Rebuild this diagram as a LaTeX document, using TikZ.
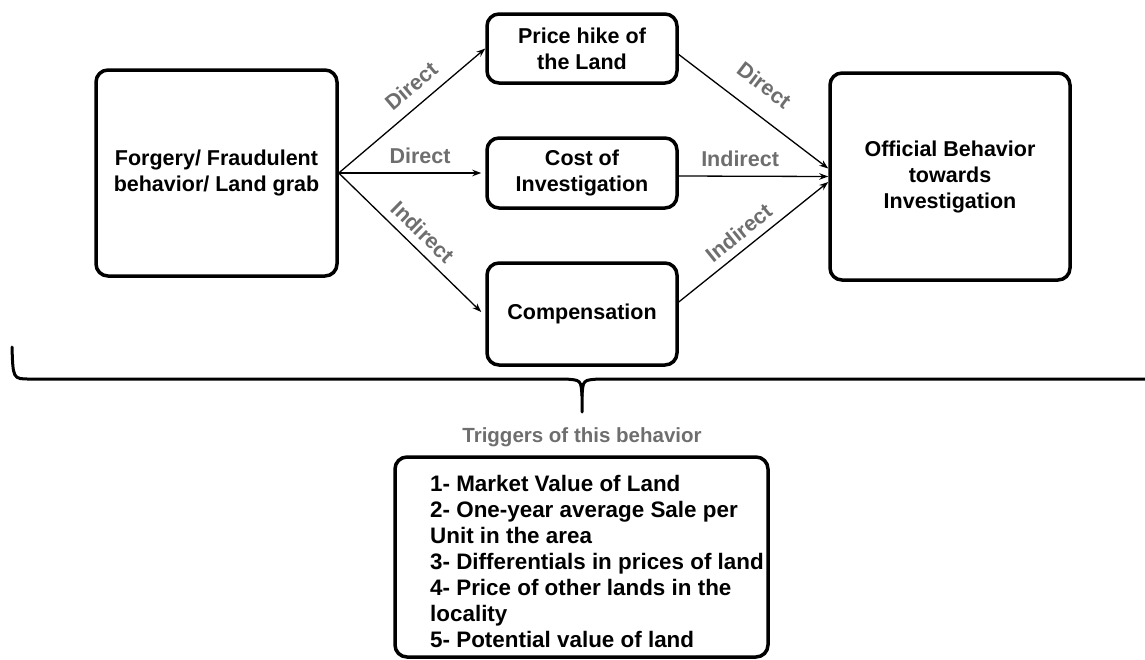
\documentclass[tikz,border=0pt]{standalone}
\usepackage{fontspec}
\setmainfont{Liberation Sans}
\usetikzlibrary{arrows.meta}
\definecolor{labelgray}{HTML}{6E6E6E}

\begin{document}
\begin{tikzpicture}[
	x=1pt, y=-1pt,
	every node/.style={font=\fontsize{21.5}{26}\selectfont\bfseries, align=center},
	box/.style={draw=black, line width=3.5pt, rounded corners=12pt, inner sep=0pt},
	link/.style={-{Stealth[length=9pt, width=6.5pt]}, line width=1.3pt},
	tag/.style={text=labelgray, sloped, above=#1, inner sep=0pt},
	brace/.style={line width=3pt, line cap=round},
]
\useasboundingbox (0,0) rectangle (1145,659);

% main boxes
\node [box, minimum width=241pt, minimum height=206pt] (fraud) at (216.5,173) {Forgery/ Fraudulent\\behavior/ Land grab};
\node [box, minimum width=190pt, minimum height=69pt] (price) at (582,48.5) {Price hike of\\the Land};
\node [box, minimum width=190pt, minimum height=70pt] (cost) at (582,173) {Cost of\\Investigation};
\node [box, minimum width=190pt, minimum height=102pt] (comp) at (582,314) {Compensation};
\node [box, minimum width=240pt, minimum height=207pt] (official) at (950,176.5) {Official Behavior\\towards\\Investigation};

% links
\draw [link] (fraud.east) -- node [tag=11pt, pos=0.58] {Direct} (price.west);
\draw [link] (fraud.east) -- node [tag=9pt, pos=0.57] {Direct} ([xshift=-4pt]cost.west);
\draw [link] (fraud.east) -- node [tag=8pt, pos=0.51] {Indirect} ([xshift=-4pt, yshift=2pt]comp.west);
\draw [link] ([yshift=-6pt]price.east) -- node [tag=19pt, pos=0.46] {Direct} ([yshift=8pt]official.west);
\draw [link] ([yshift=-3pt]cost.east) -- node [tag=9pt, pos=0.41] {Indirect} (official.west);
\draw [link] ([yshift=12pt]comp.east) -- node [tag=8pt, pos=0.47] {Indirect} ([yshift=-5.5pt]official.west);

% brace
\coordinate (tip) at (582,412);
\draw [brace] (12,347) .. controls (13,379) .. (30,379) -- (565,379) .. controls (581,380) .. (582,396) -- (tip);
\draw [brace] (582,396) .. controls (583,380) .. (599,379) -- (1145,379);

% triggers
\node [text=labelgray, font=\fontsize{20.5}{24}\selectfont\bfseries] (trigtitle) at (582,437) {Triggers of this behavior};
\node [box, minimum width=373pt, minimum height=200pt] (trigbox) at (581.5,557) {};
\node [anchor=north west, align=left, inner sep=0pt, font=\fontsize{22.4}{26}\selectfont\bfseries] (triglist) at (430,475) {1- Market Value of Land\\2- One-year average Sale per\\Unit in the area\\3- Differentials in prices of land\\4- Price of other lands in the\\locality\\5- Potential value of land};
\end{tikzpicture}
\end{document}
